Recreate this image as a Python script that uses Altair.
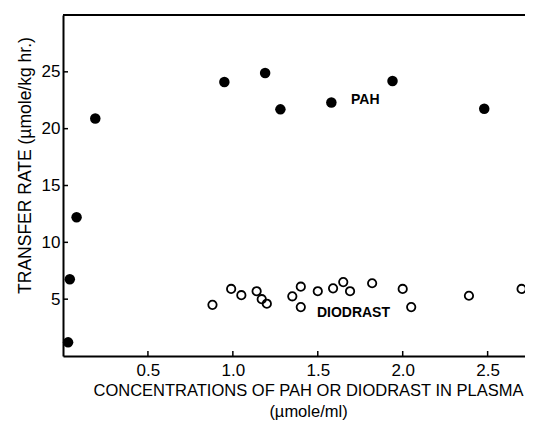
import altair as alt
import pandas as pd

# PAH (filled circles)
pah_x = [0.03, 0.04, 0.08, 0.19, 0.95, 1.19, 1.28, 1.58, 1.94, 2.48]
pah_y = [1.2, 6.75, 12.2, 20.9, 24.1, 24.9, 21.7, 22.3, 24.2, 21.75]

# Diodrast (open circles)
dio_x = [0.88, 0.99, 1.05, 1.14, 1.17, 1.20, 1.35, 1.40, 1.40, 1.50, 1.59,
         1.65, 1.69, 1.82, 2.00, 2.05, 2.39, 2.70]
dio_y = [4.5, 5.9, 5.35, 5.7, 5.0, 4.6, 5.25, 6.1, 4.3, 5.7, 5.95,
         6.5, 5.7, 6.4, 5.9, 4.3, 5.3, 5.9]

x_ticks = [0.5, 1.0, 1.5, 2.0, 2.5]
y_ticks = [5, 10, 15, 20, 25]

labels = ["PAH", "DIODRAST"]
label_x = [1.78, 1.71]
label_y = [22.5, 3.8]

X_DOMAIN = [0, 2.72]
Y_DOMAIN = [0, 30]
W, H = 462, 341
FONT = "Liberation Sans"

pah = pd.DataFrame({"x": pah_x, "y": pah_y})
dio = pd.DataFrame({"x": dio_x, "y": dio_y})
lab = pd.DataFrame({"x": label_x, "y": label_y, "t": labels})
xt = pd.DataFrame({"x": x_ticks})
yt = pd.DataFrame({"y": y_ticks})

xscale = alt.Scale(domain=X_DOMAIN, nice=False, zero=False)
yscale = alt.Scale(domain=Y_DOMAIN, nice=False, zero=False)

xaxis = alt.Axis(values=x_ticks, format=".1f", ticks=False, grid=False,
                 domainColor="black", domainWidth=2, labelFontSize=17,
                 labelFont=FONT, labelColor="black", labelPadding=6,
                 title=["CONCENTRATIONS OF PAH OR DIODRAST IN PLASMA", "(µmole/ml)"],
                 titleFont=FONT, titleFontSize=16.5, titleFontWeight="normal",
                 titleColor="black", titlePadding=4, titleLineHeight=21,
                 titleX=245)
yaxis = alt.Axis(values=y_ticks, ticks=False, grid=False,
                 domainColor="black", domainWidth=2, labelFontSize=17,
                 labelFont=FONT, labelColor="black", labelPadding=3,
                 title="TRANSFER RATE (µmole/kg hr.)",
                 titleFont=FONT, titleFontSize=17.5, titleFontWeight="normal",
                 titleColor="black", titlePadding=7, titleY=150)

base_pts = alt.Chart(pah).mark_circle(size=110, color="black", opacity=1).encode(
    x=alt.X("x:Q", scale=xscale, axis=xaxis),
    y=alt.Y("y:Q", scale=yscale, axis=yaxis),
)
open_pts = alt.Chart(dio).mark_point(shape="circle", size=70, color="black",
                                     strokeWidth=1.8, filled=False, opacity=1).encode(
    x=alt.X("x:Q", scale=xscale),
    y=alt.Y("y:Q", scale=yscale),
)
text = alt.Chart(lab).mark_text(font=FONT, fontSize=14, fontWeight="bold",
                                color="black").encode(
    x=alt.X("x:Q", scale=xscale),
    y=alt.Y("y:Q", scale=yscale),
    text="t:N",
)
xticks = alt.Chart(xt).mark_rule(color="black", strokeWidth=1.5).encode(
    x=alt.X("x:Q", scale=xscale),
    y=alt.value(H), y2=alt.value(H - 5),
)
yticks = alt.Chart(yt).mark_rule(color="black", strokeWidth=1.5).encode(
    y=alt.Y("y:Q", scale=yscale),
    x=alt.value(0), x2=alt.value(5),
)
top = alt.Chart(pd.DataFrame({"a": [0]})).mark_rule(color="black", strokeWidth=2).encode(
    x=alt.value(0), x2=alt.value(W), y=alt.value(0),
)

chart = alt.layer(base_pts, open_pts, text, xticks, yticks, top).properties(
    width=W, height=H,
    autosize=alt.AutoSizeParams(type="none"),
    padding={"left": 55, "top": 7, "right": 0, "bottom": 67},
).configure_view(stroke=None).configure(background="white")

chart.save("out.html", embed_options={"renderer": "svg", "actions": False})
